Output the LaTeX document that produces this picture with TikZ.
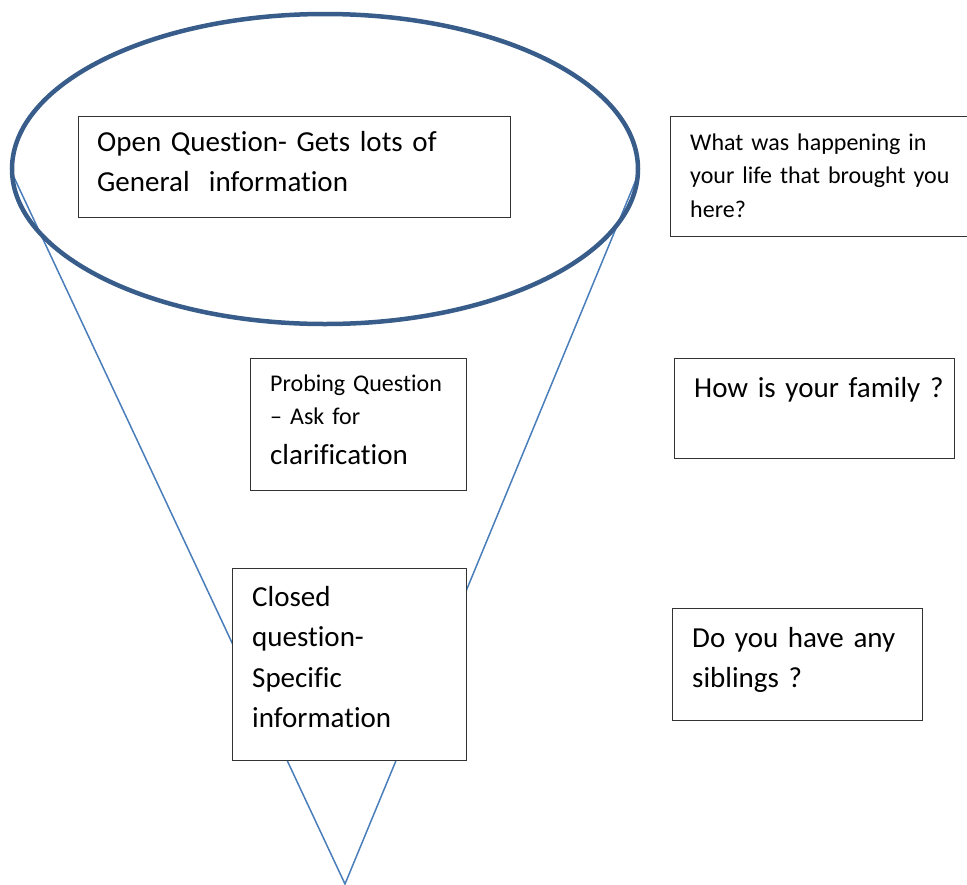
\documentclass[tikz,border=0pt]{standalone}
\usepackage{fontspec}
\setmainfont{Carlito}[Ligatures=NoCommon, WordSpace=0.85]
\definecolor{ringblue}{RGB}{56,93,138}
\definecolor{lineblue}{RGB}{74,126,187}
\tikzset{
  qbox/.style={draw=black!80, line width=1.2pt, fill=white, rectangle, inner sep=0pt, anchor=north west},
  bigtext/.style={inner sep=0pt, anchor=base west, align=left, font=\fontsize{29}{40.5}\selectfont},
  smalltext/.style={inner sep=0pt, anchor=base west, align=left, font=\fontsize{24}{33.5}\selectfont},
  ring/.style={draw=ringblue, line width=4.5pt},
  funnel/.style={draw=lineblue, line width=1.5pt}
}
\begin{document}
\begin{tikzpicture}[x=1pt, y=-1pt]
\useasboundingbox (0,0) rectangle (967,884);
% funnel
\coordinate (apex) at (345,884);
\coordinate (lefttop) at (12,173);
\coordinate (righttop) at (638,175);
\draw[funnel] (lefttop) -- (apex) -- (righttop);
\draw[ring] (325,169) ellipse [x radius=313, y radius=155];
% boxes
\node[qbox, minimum width=432pt, minimum height=101pt] (open) at (78,116) {};
\node[bigtext, text width=400pt] (opentext) at (97,151) {Open Question- Gets lots of\\General\ \ information};

\node[qbox, minimum width=310pt, minimum height=120pt] (whatbox) at (670,116) {};
\node[smalltext, text width=280pt] (whattext) at (690,150) {What was happening in\\your life that brought you\\here?};

\node[qbox, minimum width=216pt, minimum height=132pt] (probe) at (250,358) {};
\node[smalltext, text width=190pt] (probetext) at (270,391) {Probing Question\\– Ask for\\[6pt]{\fontsize{29}{33.5}\selectfont clarification}};

\node[qbox, minimum width=280pt, minimum height=100pt] (family) at (674,358) {};
\node[bigtext, text width=260pt] (familytext) at (694,397) {How is your family ?};

\node[qbox, minimum width=234pt, minimum height=192pt] (closed) at (232,568) {};
\node[bigtext, text width=210pt] (closedtext) at (252,606) {Closed\\question-\\Specific\\information};

\node[qbox, minimum width=250pt, minimum height=112pt] (siblings) at (672,608) {};
\node[bigtext, text width=230pt] (siblingstext) at (692,647) {Do you have any\\siblings ?};
\end{tikzpicture}
\end{document}
